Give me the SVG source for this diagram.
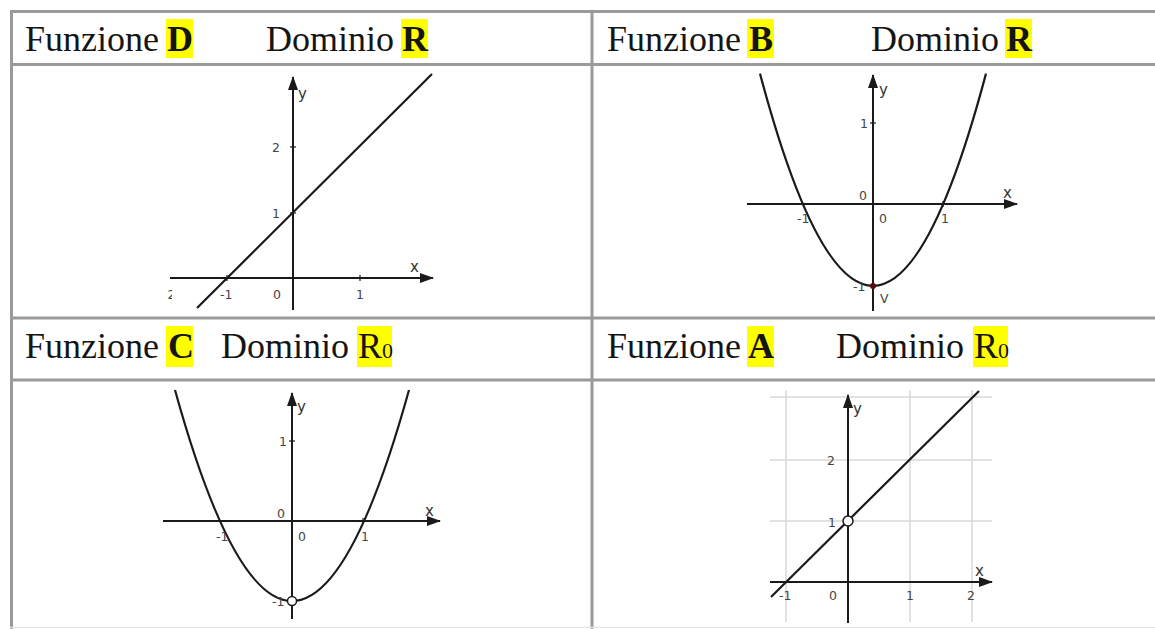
<svg xmlns="http://www.w3.org/2000/svg" width="1155" height="629" viewBox="0 0 1155 629">
<style>
.hd{font-family:"Liberation Serif","Times New Roman",serif;font-size:36px;fill:#151515}
.b{font-weight:bold}
.hl{fill:#ffff00}
.tb{stroke:#9a9a9a;stroke-width:3;fill:none}
.ax{stroke:#1a1a1a;stroke-width:2;fill:none}
.cv{stroke:#1a1a1a;stroke-width:2.2;fill:none}
.gr{stroke:#d8d8d8;stroke-width:1.5;fill:none}
.tk{stroke:#1a1a1a;stroke-width:1.2}
.lb{font-family:"DejaVu Sans","Liberation Sans",sans-serif;font-size:12.5px;fill:#444}
.al{font-family:"DejaVu Sans","Liberation Sans",sans-serif;font-size:15px;fill:#333}
</style>
<defs>
<marker id="ar" markerWidth="14" markerHeight="10" refX="13" refY="5" orient="auto" markerUnits="userSpaceOnUse">
<path d="M0,0 L14,5 L0,10 Z" fill="#1a1a1a"/>
</marker>
<clipPath id="clipD"><rect x="168" y="280" width="4" height="30"/></clipPath>
</defs>
<rect width="1155" height="629" fill="#fff"/>

<g id="table">
<line class="tb" x1="10" y1="11.5" x2="1155" y2="11.5"/>
<line class="tb" x1="11.5" y1="10" x2="11.5" y2="629"/>
<line class="tb" x1="592" y1="10" x2="592" y2="629"/>
<line class="tb" x1="10" y1="64.5" x2="1155" y2="64.5"/>
<line class="tb" x1="10" y1="318" x2="1155" y2="318"/>
<line class="tb" x1="10" y1="380" x2="1155" y2="380"/>
<line x1="10" y1="627.5" x2="1155" y2="627.5" stroke="#e4e4e4" stroke-width="1.5"/>
</g>

<g id="header-D">
<rect class="hl" x="166" y="19" width="27" height="39"/>
<rect class="hl" x="401" y="19" width="27" height="39"/>
<text class="hd" x="25" y="51">Funzione</text>
<text class="hd b" x="167" y="51">D</text>
<text class="hd" x="266" y="51">Dominio</text>
<text class="hd b" x="402" y="51">R</text>
</g>

<g id="header-B">
<rect class="hl" x="747" y="19" width="27" height="39"/>
<rect class="hl" x="1005" y="19" width="27" height="39"/>
<text class="hd" x="607" y="51">Funzione</text>
<text class="hd b" x="749" y="51">B</text>
<text class="hd" x="871" y="51">Dominio</text>
<text class="hd b" x="1006" y="51">R</text>
</g>

<g id="header-C">
<rect class="hl" x="166" y="326" width="27" height="41"/>
<rect class="hl" x="357" y="326" width="35" height="41"/>
<text class="hd" x="25" y="358">Funzione</text>
<text class="hd b" x="168" y="358">C</text>
<text class="hd" x="221" y="358">Dominio</text>
<text class="hd" x="358" y="358">R<tspan font-size="22px">0</tspan></text>
</g>

<g id="header-A">
<rect class="hl" x="747" y="326" width="27" height="41"/>
<rect class="hl" x="973" y="326" width="35" height="41"/>
<text class="hd" x="607" y="358">Funzione</text>
<text class="hd b" x="748" y="358">A</text>
<text class="hd" x="836" y="358">Dominio</text>
<text class="hd" x="974" y="358">R<tspan font-size="22px">0</tspan></text>
</g>

<g id="graph-D">
<line class="ax" x1="170" y1="278" x2="433" y2="278" marker-end="url(#ar)"/>
<line class="ax" x1="293" y1="310" x2="293" y2="77" marker-end="url(#ar)"/>
<line class="tk" x1="227" y1="275" x2="227" y2="281"/>
<line class="tk" x1="360" y1="275" x2="360" y2="281"/>
<line class="tk" x1="290" y1="213" x2="296" y2="213"/>
<line class="tk" x1="290" y1="147" x2="296" y2="147"/>
<line class="cv" x1="197" y1="308" x2="432" y2="74"/>
<text class="al" x="298" y="99">y</text>
<text class="al" x="410" y="272">x</text>
<text class="lb" x="272" y="152">2</text>
<text class="lb" x="272" y="218">1</text>
<text class="lb" x="220" y="299">-1</text>
<text class="lb" x="273" y="299">0</text>
<text class="lb" x="356" y="299">1</text>
<text class="lb" x="163" y="299" clip-path="url(#clipD)">-2</text>
</g>

<g id="graph-B">
<line class="ax" x1="747" y1="204" x2="1017" y2="204" marker-end="url(#ar)"/>
<line class="ax" x1="873" y1="311" x2="873" y2="75" marker-end="url(#ar)"/>
<line class="tk" x1="870" y1="123" x2="876" y2="123"/>
<line class="tk" x1="943" y1="201" x2="943" y2="207"/>
<path class="cv" d="M760,73.6 Q873,498 986,73.6"/>
<circle cx="873" cy="286" r="3" fill="#5a0a0a"/>
<text class="al" x="879" y="95">y</text>
<text class="al" x="1003" y="198">x</text>
<text class="lb" x="860" y="128">1</text>
<text class="lb" x="859" y="200">0</text>
<text class="lb" x="879" y="223">0</text>
<text class="lb" x="797" y="223">-1</text>
<text class="lb" x="941" y="223">1</text>
<text class="lb" x="853" y="291">-1</text>
<text class="lb" x="880" y="303" fill="#6b1010">V</text>
</g>

<g id="graph-C">
<line class="ax" x1="163" y1="521" x2="440" y2="521" marker-end="url(#ar)"/>
<line class="ax" x1="292" y1="619" x2="292" y2="393" marker-end="url(#ar)"/>
<line class="tk" x1="289" y1="441" x2="295" y2="441"/>
<line class="tk" x1="363" y1="518" x2="363" y2="524"/>
<path class="cv" d="M175,390 Q292,812 409,390"/>
<circle cx="292" cy="601" r="4.5" fill="#fff" stroke="#1a1a1a" stroke-width="1.5"/>
<text class="al" x="297" y="412">y</text>
<text class="al" x="425" y="516">x</text>
<text class="lb" x="279" y="446">1</text>
<text class="lb" x="277" y="518">0</text>
<text class="lb" x="298" y="541">0</text>
<text class="lb" x="216" y="541">-1</text>
<text class="lb" x="361" y="541">1</text>
<text class="lb" x="272" y="606">-1</text>
</g>

<g id="graph-A">
<line class="gr" x1="786" y1="390" x2="786" y2="622"/>
<line class="gr" x1="910" y1="390" x2="910" y2="622"/>
<line class="gr" x1="972" y1="390" x2="972" y2="622"/>
<line class="gr" x1="770" y1="397" x2="992" y2="397"/>
<line class="gr" x1="770" y1="460" x2="992" y2="460"/>
<line class="gr" x1="770" y1="521" x2="992" y2="521"/>
<line class="ax" x1="770" y1="582" x2="992" y2="582" marker-end="url(#ar)"/>
<line class="ax" x1="848" y1="623" x2="848" y2="395" marker-end="url(#ar)"/>
<line class="cv" x1="771" y1="597" x2="979" y2="391"/>
<circle cx="848" cy="521" r="5" fill="#fff" stroke="#1a1a1a" stroke-width="1.5"/>
<text class="al" x="853" y="414">y</text>
<text class="al" x="975" y="576">x</text>
<text class="lb" x="827" y="465">2</text>
<text class="lb" x="828" y="527">1</text>
<text class="lb" x="779" y="600">-1</text>
<text class="lb" x="829" y="600">0</text>
<text class="lb" x="906" y="600">1</text>
<text class="lb" x="967" y="600">2</text>
</g>
</svg>
